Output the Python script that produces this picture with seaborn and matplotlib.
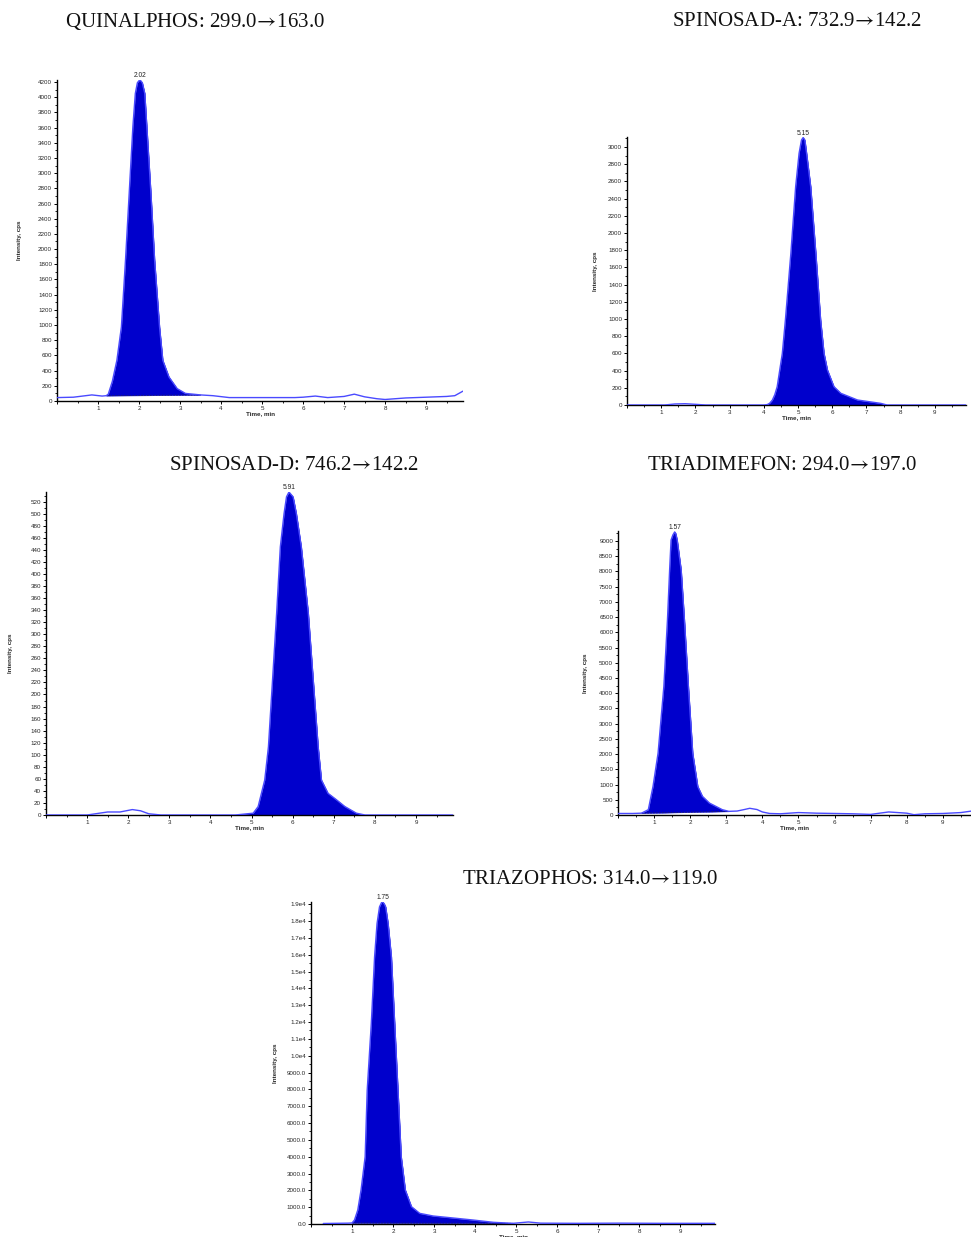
import numpy as np
import pandas as pd
import matplotlib
matplotlib.use("Agg")
import matplotlib.pyplot as plt
import seaborn as sns
from matplotlib.ticker import MultipleLocator, FuncFormatter

# ---- chromatogram traces (retention time in min, intensity in cps) ----
quin_t = [0.0, 0.4, 0.85, 1.1, 1.2, 1.25, 1.35, 1.46, 1.57, 1.67, 1.76, 1.85, 1.91, 1.96,
          2.02, 2.08, 2.14, 2.19, 2.29, 2.38, 2.50, 2.58, 2.73, 2.93, 3.13, 3.5, 3.8, 4.2,
          5.0, 5.8, 6.0, 6.3, 6.6, 7.0, 7.25, 7.5, 7.8, 8.0, 8.5, 9.0, 9.5, 9.7, 9.9]
quin_y = [45, 50, 80, 65, 70, 90, 260, 536, 975, 1854, 2733, 3612, 4050, 4190,
          4230, 4190, 4050, 3612, 2733, 1854, 975, 536, 316, 163, 100, 80, 70, 45,
          45, 45, 50, 65, 45, 60, 90, 55, 30, 20, 40, 50, 60, 70, 130]

spa_t = [0.0, 1.1, 1.4, 1.7, 2.0, 2.3, 4.0, 4.1, 4.17, 4.25, 4.32, 4.39, 4.54, 4.63, 4.79,
         4.93, 5.03, 5.10, 5.15, 5.20, 5.25, 5.37, 5.52, 5.66, 5.76, 5.86, 6.05, 6.25,
         6.74, 7.42, 7.6, 9.9]
spa_y = [0, 0, 12, 15, 8, 0, 0, 5, 20, 58, 120, 213, 600, 988, 1764,
         2539, 2926, 3080, 3110, 3080, 2926, 2539, 1764, 988, 600, 407, 213, 136,
         58, 19, 0, 0]

spd_t = [0.0, 1.0, 1.3, 1.5, 1.8, 2.1, 2.3, 2.5, 2.8, 4.6, 5.04, 5.16, 5.32, 5.41, 5.51,
         5.61, 5.70, 5.79, 5.85, 5.91, 6.01, 6.09, 6.21, 6.38, 6.50, 6.62, 6.70, 6.86,
         7.07, 7.27, 7.55, 7.76, 9.9]
spd_y = [0, 0, 3, 5, 5, 9, 7, 2, 0, 0, 3, 14, 58, 113, 224,
         335, 445, 500, 528, 536, 528, 500, 445, 335, 224, 113, 58, 36,
         25, 14, 3, 0, 0]

tria_t = [0.0, 0.4, 0.65, 0.84, 0.97, 1.11, 1.27, 1.37, 1.43, 1.47, 1.52, 1.57, 1.60, 1.64,
          1.75, 1.84, 1.95, 2.07, 2.21, 2.34, 2.53, 2.89, 3.07, 3.3, 3.5, 3.65, 3.85, 4.0,
          4.2, 4.5, 5.0, 5.5, 6.0, 6.5, 7.0, 7.5, 8.0, 8.2, 8.5, 9.0, 9.5, 9.8]
tria_y = [50, 50, 60, 175, 940, 2034, 4221, 6408, 8049, 9033, 9200, 9300, 9250, 9033,
          8049, 6408, 4221, 2034, 940, 612, 394, 175, 120, 130, 180, 220, 180, 100,
          50, 40, 80, 60, 50, 40, 20, 100, 60, 10, 40, 50, 80, 130]

triz_t = [0.3, 0.9, 1.0, 1.06, 1.14, 1.22, 1.32, 1.37, 1.47, 1.55, 1.61, 1.67, 1.72, 1.75,
          1.79, 1.82, 1.88, 1.96, 2.04, 2.12, 2.20, 2.30, 2.45, 2.65, 2.98, 3.55, 3.95,
          4.45, 4.93, 5.3, 5.6, 6.5, 7.5, 8.5, 9.85]
triz_y = [30, 50, 60, 237, 830, 2018, 3998, 7956, 11914, 15872, 17851, 18840, 19100, 19140,
          19000, 18840, 17851, 15872, 11914, 7956, 3998, 2018, 1029, 633, 475, 336, 237,
          100, 40, 120, 50, 40, 50, 40, 40]

compounds = ["QUINALPHOS", "SPINOSAD-A", "SPINOSAD-D", "TRIADIMEFON", "TRIAZOPHOS"]
transitions = [("299.0", "163.0"), ("732.9", "142.2"), ("746.2", "142.2"),
               ("294.0", "197.0"), ("314.0", "119.0")]
peak_labels = ["2.02", "5.15", "5.91", "1.57", "1.75"]
peak_times = [2.02, 5.15, 5.91, 1.57, 1.75]
# integration windows (start, end) in min
windows = [(1.2, 3.5), (4.0, 7.6), (4.6, 7.76), (0.65, 3.07), (1.0, 4.93)]

traces = [(quin_t, quin_y), (spa_t, spa_y), (spd_t, spd_y), (tria_t, tria_y), (triz_t, triz_y)]

# ---- layout (pixels) ----
W, H = 971, 1237
boxes = [(57, 80, 463, 401), (627, 137, 966, 405), (46, 492, 453, 815),
         (618, 531, 971, 815), (311, 902, 715, 1224)]
xmaxs = [9.9, 9.91, 9.9, 9.78, 9.85]
ymaxs = [4226, 3116, 536, 9330, 19130]
ymajor = [200, 200, 20, 500, 1000]
title_pos = [(195, 22), (797, 22), (294, 466), (782, 466), (590, 880)]
ylab_dx = [35, 29, 33, 30, 33]

FILL = "#0000cc"
LINE = "#4a4aff"

sns.set_style("ticks")
plt.rcParams["font.family"] = ["Liberation Sans", "DejaVu Sans"]
plt.rcParams["mathtext.fontset"] = "stix"

fig = plt.figure(figsize=(W / 100, H / 100), dpi=100)


def fmt_int(v, pos):
    return f"{int(round(v))}"


def fmt_e4(v, pos):
    if v < 9999:
        return f"{v:.1f}"
    return f"{v / 1e4:.1f}e4"


for i in range(5):
    l, t, r, b = boxes[i]
    ax = fig.add_axes([l / W, 1 - b / H, (r - l) / W, (b - t) / H])
    tt = np.array(traces[i][0], dtype=float)
    yy = np.array(traces[i][1], dtype=float)
    df = pd.DataFrame({"Time, min": tt, "Intensity, cps": yy})

    # integrated peak area above the straight baseline
    w0, w1 = windows[i]
    m = (tt >= w0) & (tt <= w1)
    y0 = yy[np.argmin(np.abs(tt - w0))]
    y1 = yy[np.argmin(np.abs(tt - w1))]
    base = np.interp(tt[m], [w0, w1], [y0, y1])
    ax.fill_between(tt[m], base, yy[m], color=FILL, lw=0.3, edgecolor=FILL, zorder=2)
    ax.plot([w0, w1], [y0, y1], ls=(0, (2, 1.5)), color="#222266", lw=0.6, zorder=3)

    sns.lineplot(data=df, x="Time, min", y="Intensity, cps", ax=ax, color=LINE,
                 lw=1.0, zorder=4, sort=False)
    for ln in ax.lines:
        ln.set_solid_joinstyle("round")

    ax.set_xlim(0, xmaxs[i])
    ax.set_ylim(0, ymaxs[i])
    ax.xaxis.set_major_locator(MultipleLocator(1))
    ax.xaxis.set_minor_locator(MultipleLocator(0.5))
    ax.yaxis.set_major_locator(MultipleLocator(ymajor[i]))
    ax.yaxis.set_minor_locator(MultipleLocator(ymajor[i] / 2))
    ax.xaxis.set_major_formatter(FuncFormatter(lambda v, p: "" if v < 0.5 else f"{int(round(v))}"))
    ax.yaxis.set_major_formatter(FuncFormatter(fmt_e4 if i == 4 else fmt_int))

    ax.tick_params(which="major", labelsize=4.5, length=2.5, width=0.7, pad=1, color="black")
    ax.tick_params(which="minor", length=1.5, width=0.6, color="black")
    for s in ("left", "bottom"):
        ax.spines[s].set_linewidth(1.0)
        ax.spines[s].set_color("black")
    sns.despine(ax=ax)

    w_px, h_px = r - l, b - t
    ax.set_xlabel("Time, min", fontsize=4.5, fontweight="bold")
    ax.set_ylabel("Intensity, cps", fontsize=4.5, fontweight="bold")
    ax.xaxis.set_label_coords(0.5, -10 / h_px)
    ax.yaxis.set_label_coords(-ylab_dx[i] / w_px, 0.5)

    pk = peak_times[i]
    py = yy[np.argmin(np.abs(tt - pk))]
    ax.annotate(peak_labels[i], (pk, py), xytext=(0, 0.5), textcoords="offset points",
                ha="center", va="bottom", fontsize=4.8, color="#222222")

    cx, cy = title_pos[i]
    src, dst = transitions[i]
    fig.text(cx / W, 1 - cy / H, f"{compounds[i]}: {src}$\\!\\rightarrow\\!${dst}",
             ha="center", va="center", fontsize=15, color="#111111",
             family=["Liberation Serif", "DejaVu Serif"])

fig.savefig("out.png", dpi=100, facecolor="white")
